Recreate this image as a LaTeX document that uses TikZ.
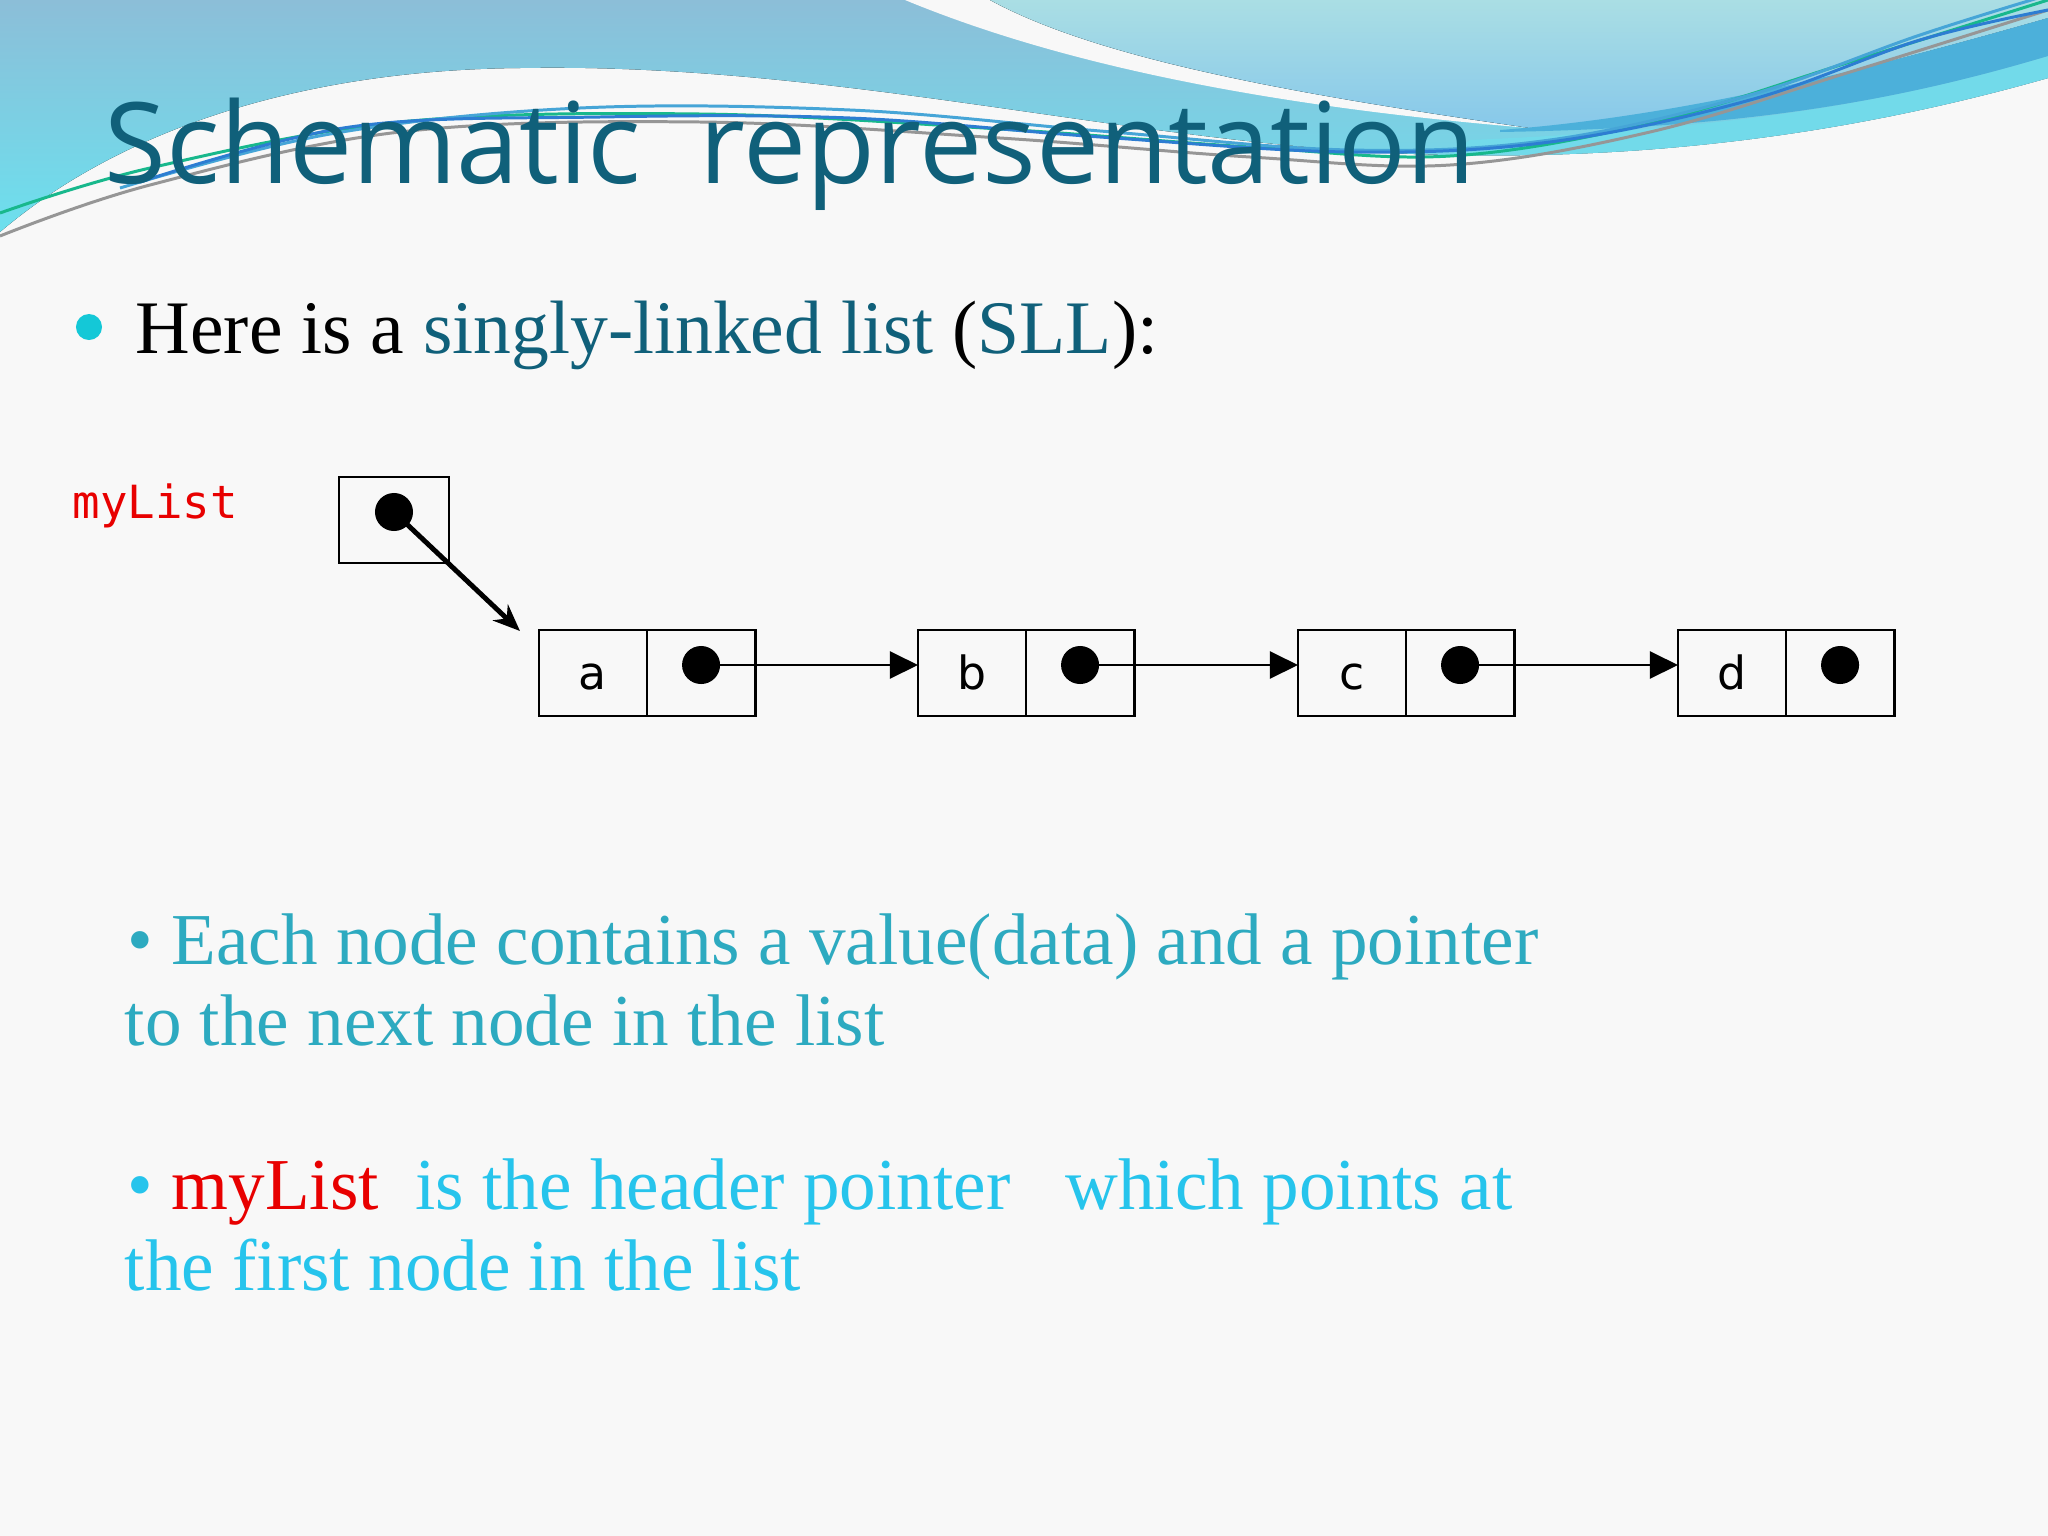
\documentclass[tikz,border=0pt]{standalone}
\usepackage{fontspec}
\setmainfont{Liberation Serif}
\newfontfamily\titlefont{Open Sans}
\newfontfamily\codefont{DejaVu Sans Mono}
\newfontfamily\cellfont{DejaVu Sans}
\usepackage{tikz}
\usetikzlibrary{arrows.meta, positioning, calc}

\definecolor{bodybg}{RGB}{248,248,248}
\definecolor{bannertop}{RGB}{140,190,216}
\definecolor{bannerlow}{RGB}{108,224,238}
\definecolor{aquatop}{RGB}{170,222,228}
\definecolor{aqualow}{RGB}{135,200,234}
\definecolor{ribbonblue}{RGB}{76,176,218}
\definecolor{cyanband}{RGB}{114,218,234}
\definecolor{linegreen}{RGB}{24,184,140}
\definecolor{linegray}{RGB}{150,150,150}
\definecolor{lineblue}{RGB}{45,125,210}
\definecolor{linesky}{RGB}{70,165,215}
\definecolor{titleteal}{RGB}{16,96,122}
\definecolor{bulletcyan}{RGB}{20,200,215}
\definecolor{noteteal}{RGB}{45,170,192}
\definecolor{notecyan}{RGB}{38,196,236}
\definecolor{listred}{RGB}{232,0,0}

\begin{document}
\begin{tikzpicture}[x=0.01cm, y=-0.01cm,
    cellbox/.style={rectangle, draw=black, line width=0.8pt, minimum width=1.08cm, minimum height=0.86cm, inner sep=0pt, outer sep=0pt},
    valcell/.style={cellbox, font=\cellfont\fontsize{13}{15}\selectfont, text height=9.5pt, text depth=0pt},
    ptrdot/.style={circle, fill=black, minimum size=0.38cm, inner sep=0pt},
    link/.style={-{Triangle[length=0.28cm, width=0.27cm]}, line width=0.6pt},
    headlink/.style={-{Stealth[length=0.27cm, width=0.22cm]}, line width=1.4pt},
    slidetext/.style={anchor=base west, inner sep=0pt, font=\fontsize{20.8}{25}\selectfont},
    wave/.style={line width=0.85pt},
]

% Slide background
\fill[bodybg] (0,0) rectangle (2048,1536);
\useasboundingbox (0,0) rectangle (2048,1536);

% Banner
\fill[top color=bannertop, bottom color=bannerlow] (0,0) -- (2048,0) -- (2048,78)
    .. controls (1900,120) and (1700,160) .. (1450,155)
    .. controls (1150,150) and (850,62) .. (520,68)
    .. controls (300,70) and (120,130) .. (0,232) -- cycle;
\fill[bodybg] (905,0) .. controls (1050,60) and (1250,105) .. (1530,128)
    .. controls (1300,95) and (1100,60) .. (990,0) -- cycle;
\fill[top color=aquatop, bottom color=aqualow] (990,0) .. controls (1100,60) and (1300,95) .. (1530,128)
    .. controls (1700,115) and (1900,60) .. (2048,18) -- (2048,0) -- cycle;
\fill[cyanband] (1470,140) .. controls (1750,128) and (1900,100) .. (2048,56) -- (2048,78)
    .. controls (1900,120) and (1700,160) .. (1450,155) -- cycle;
\fill[ribbonblue] (1500,130) .. controls (1700,115) and (1900,60) .. (2048,18) -- (2048,56)
    .. controls (1900,100) and (1750,128) .. (1500,132) -- cycle;

% Wave lines
\draw[wave, linegray] plot[smooth, tension=0.6] coordinates {(0,236) (150,185) (400,132) (700,122) (1000,138) (1250,157) (1450,165) (1650,132) (1850,72) (2048,10)};
\draw[wave, linegreen] plot[smooth, tension=0.6] coordinates {(0,213) (150,168) (400,122) (700,114) (1000,129) (1250,147) (1450,156) (1650,123) (1850,62) (2048,0)};
\draw[wave, linesky] plot[smooth, tension=0.6] coordinates {(120,188) (330,134) (580,108) (850,110) (1100,131) (1350,150) (1550,140) (1750,95) (1920,35) (2048,-5)};
\draw[wave, lineblue] plot[smooth, tension=0.6] coordinates {(140,182) (350,127) (600,117) (850,118) (1100,137) (1350,152) (1550,142) (1750,100) (1920,40) (2048,10)};

% Title
\node[anchor=base west, inner sep=0pt, font=\titlefont\fontsize{32}{38}\selectfont, text=titleteal] (title) at (104,183) {Schematic\ \ representation};

% Intro bullet
\node[circle, fill=bulletcyan, minimum size=0.26cm, inner sep=0pt] (intro-bullet) at (89,327) {};
\node[slidetext, font=\fontsize{21.5}{26}\selectfont] (intro) at (135,353) {Here is a \textcolor{titleteal}{singly-linked list} (\textcolor{titleteal}{SLL}):};

% Header pointer
\node[anchor=base west, inner sep=0pt, font=\codefont\fontsize{13}{15}\selectfont, text=listred] (head-label) at (72,518) {myList};
\node[cellbox, minimum width=1.1cm] (head) at (394,520) {};
\node[ptrdot] (dot-head) at (394,512) {};

% List nodes
\foreach \v/\x in {a/593, b/972, c/1352, d/1732} {
    \node[valcell] (val-\v) at (\x,673) {\v};
    \node[cellbox, anchor=west] (ptr-\v) at (val-\v.east) {};
    \node[ptrdot] (dot-\v) at ($(ptr-\v.center)+(0,-8)$) {};
}

% Links
\coordinate (head-tip) at (520,631);
\draw[headlink] (dot-head.center) -- (head-tip);
\foreach \u/\v in {a/b, b/c, c/d}
    \draw[link] (dot-\u.center) -- (dot-\u.center -| val-\v.west);

% Notes
\node[slidetext, text=noteteal] (note1a) at (127,964) {•\ Each node contains a value(data) and a pointer};
\node[slidetext, text=noteteal] (note1b) at (124,1045) {to the next node in the list};
\node[slidetext, text=notecyan] (note2a) at (127,1209) {•\ \textcolor{listred}{myList}\ \ is the header pointer\ \ \ which points at};
\node[slidetext, text=notecyan] (note2b) at (124,1290) {the first node in the list};

\end{tikzpicture}
\end{document}
